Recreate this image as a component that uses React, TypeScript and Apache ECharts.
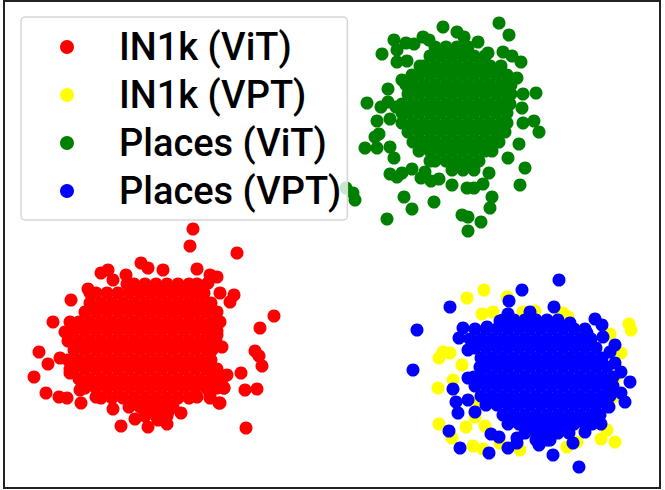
import React, { useEffect, useRef } from "react";
import * as echarts from "echarts";

const seriesNames = ["IN1k (ViT)", "IN1k (VPT)", "Places (ViT)", "Places (VPT)"];
const seriesColors = ["#ff0000", "#ffff00", "#008000", "#0000ff"];

const redEdge = [
  [193,229],[190,246],[237,253],[274,316],[260,328],[255,351],[259,356],[262,366],[241,373],[257,389],[245,390],[246,428],
  [220,403],[224,388],[227,375],[222,347],[217,335],[220,322],[230,302],[234,295],[220,293],[217,277],[208,283],[210,275],
  [197,269],[163,270],[141,263],[148,268],[126,275],[113,280],[108,270],[101,273],[88,289],[71,300],[53,322],[65,332],
  [39,352],[48,364],[60,358],[34,377],[46,393],[59,397],[67,398],[81,403],[96,397],[80,390],[70,373],[113,409],[121,426],
  [135,419],[148,427],[158,420],[167,424],[168,412],[181,413],[197,397],[219,403],[210,395],[217,373],
];
const redBody = [
  [127,284],[134,284],[145,284],[156,284],[167,284],[178,284],[189,284],[197,284],
  [90,293],[96,293],[107,293],[118,293],[129,293],[140,293],[151,293],[162,293],[173,293],[184,293],[195,293],[204,293],
  [90,303],[101,303],[112,303],[123,303],[134,303],[145,303],[156,303],[167,303],[178,303],[189,303],[200,303],[211,303],
  [85,312],[96,312],[107,312],[118,312],[129,312],[140,312],[151,312],[162,312],[173,312],[184,312],[195,312],[206,312],[217,312],
  [70,322],[79,322],[90,322],[101,322],[112,322],[123,322],[134,322],[145,322],[156,322],[167,322],[178,322],[189,322],[200,322],[211,322],[217,322],
  [74,331],[85,331],[96,331],[107,331],[118,331],[129,331],[140,331],[151,331],[162,331],[173,331],[184,331],[195,331],[206,331],[217,331],
  [68,341],[79,341],[90,341],[101,341],[112,341],[123,341],[134,341],[145,341],[156,341],[167,341],[178,341],[189,341],[200,341],[211,341],[216,341],
  [74,350],[85,350],[96,350],[107,350],[118,350],[129,350],[140,350],[151,350],[162,350],[173,350],[184,350],[195,350],[206,350],[212,350],
  [68,360],[79,360],[90,360],[101,360],[112,360],[123,360],[134,360],[145,360],[156,360],[167,360],[178,360],[189,360],[200,360],[211,360],
  [70,369],[74,369],[85,369],[96,369],[107,369],[118,369],[129,369],[140,369],[151,369],[162,369],[173,369],[184,369],[195,369],[206,369],[217,369],
  [79,379],[90,379],[101,379],[112,379],[123,379],[134,379],[145,379],[156,379],[167,379],[178,379],[189,379],[200,379],[211,379],[222,379],
  [85,388],[96,388],[107,388],[118,388],[129,388],[140,388],[151,388],[162,388],[173,388],[184,388],[195,388],[206,388],[217,388],[224,388],
  [101,398],[112,398],[123,398],[134,398],[145,398],[156,398],[167,398],[178,398],[189,398],[210,398],
  [129,407],[140,407],[151,407],[162,407],[173,407],
  [145,416],[156,416],[167,416],
];

const yellowEdge = [
  [484,290],[467,298],[507,297],[482,314],[493,312],[523,312],[535,311],[563,313],[568,317],[579,330],[610,334],[629,324],
  [631,330],[621,353],[443,352],[439,358],[450,353],[462,365],[453,380],[438,388],[478,402],[439,424],[452,438],[466,427],
  [473,446],[483,449],[485,426],[475,417],[500,443],[520,450],[567,447],[577,442],[607,430],[601,439],[615,442],[613,397],
  [615,378],[547,435],[570,425],[557,328],[597,380],
];
const yellowBody = [
  [510,340],[530,345],[550,350],[575,355],[500,365],[525,370],[548,375],[570,380],[505,395],[530,400],[555,405],[580,400],
];

const greenEdge = [
  [499,23],[509,35],[443,27],[457,32],[464,37],[394,40],[382,54],[406,43],[414,44],[423,37],[429,40],[397,50],[397,62],
  [407,61],[478,42],[488,53],[503,52],[512,56],[521,62],[517,78],[523,94],[536,93],[522,108],[523,123],[534,121],[539,132],
  [519,144],[508,158],[525,168],[520,185],[492,197],[490,208],[481,222],[468,231],[462,215],[468,217],[489,173],[483,184],
  [474,188],[467,188],[452,185],[439,179],[431,181],[421,178],[425,172],[412,169],[402,173],[397,177],[390,174],[404,197],
  [412,209],[434,202],[387,219],[355,200],[353,193],[346,188],[394,158],[365,148],[377,148],[375,137],[379,134],[390,147],
  [377,121],[390,119],[396,107],[381,107],[388,89],[367,103],[388,102],[402,80],
];
const greenBody = [
  [435,47],[446,47],[457,47],[468,47],
  [430,56],[441,56],[452,56],[463,56],[474,56],[485,56],
  [420,66],[424,66],[435,66],[446,66],[457,66],[468,66],[479,66],[490,66],[501,66],
  [412,75],[419,75],[430,75],[441,75],[452,75],[463,75],[474,75],[485,75],[496,75],[507,75],
  [406,85],[413,85],[424,85],[435,85],[446,85],[457,85],[468,85],[479,85],[490,85],[501,85],[511,85],
  [408,94],[419,94],[430,94],[441,94],[452,94],[463,94],[474,94],[485,94],[496,94],[507,94],[511,94],
  [402,104],[413,104],[424,104],[435,104],[446,104],[457,104],[468,104],[479,104],[490,104],[501,104],[510,104],
  [402,113],[408,113],[419,113],[430,113],[441,113],[452,113],[463,113],[474,113],[485,113],[496,113],[507,113],
  [402,123],[413,123],[424,123],[435,123],[446,123],[457,123],[468,123],[479,123],[490,123],[501,123],[507,123],
  [408,132],[419,132],[430,132],[441,132],[452,132],[463,132],[474,132],[485,132],[496,132],[505,132],
  [413,142],[424,142],[435,142],[446,142],[457,142],[468,142],[479,142],[490,142],[499,142],
  [419,151],[430,151],[441,151],[452,151],[463,151],[474,151],[485,151],[492,151],
  [430,161],[435,161],[446,161],[457,161],[468,161],[479,161],
  [452,170],[463,170],[474,170],
];

const blueEdge = [
  [559,280],[522,290],[509,301],[508,314],[530,312],[554,307],[450,307],[417,330],[413,370],[595,319],[602,325],[603,337],
  [587,333],[615,345],[610,352],[615,363],[621,372],[630,382],[621,393],[625,402],[609,407],[601,424],[585,432],[573,443],
  [579,467],[553,455],[539,445],[550,440],[517,438],[517,443],[508,448],[489,453],[460,448],[449,431],[491,434],[499,437],
  [458,413],[456,402],[468,400],[475,412],[453,389],[468,378],[459,338],[463,328],[468,350],[500,321],[487,327],[570,323],
];
const blueBody = [
  [503,320],[514,320],[525,320],[536,320],[547,320],[558,320],
  [475,329],[486,329],[497,329],[508,329],[519,329],[530,329],[541,329],[552,329],[563,329],[574,329],[585,329],
  [470,339],[481,339],[492,339],[503,339],[514,339],[525,339],[536,339],[547,339],[558,339],[569,339],[580,339],[591,339],
  [475,348],[486,348],[497,348],[508,348],[519,348],[530,348],[541,348],[552,348],[563,348],[574,348],[585,348],[596,348],
  [481,358],[492,358],[503,358],[514,358],[525,358],[536,358],[547,358],[558,358],[569,358],[580,358],[591,358],[602,358],
  [480,367],[486,367],[497,367],[508,367],[519,367],[530,367],[541,367],[552,367],[563,367],[574,367],[585,367],[596,367],[607,367],
  [474,377],[481,377],[492,377],[503,377],[514,377],[525,377],[536,377],[547,377],[558,377],[569,377],[580,377],[591,377],[602,377],[613,377],
  [475,386],[486,386],[497,386],[508,386],[519,386],[530,386],[541,386],[552,386],[563,386],[574,386],[585,386],[596,386],[607,386],[613,386],
  [481,396],[492,396],[503,396],[514,396],[525,396],[536,396],[547,396],[558,396],[569,396],[580,396],[591,396],[602,396],[610,396],
  [486,405],[497,405],[508,405],[519,405],[530,405],[541,405],[552,405],[563,405],[574,405],[585,405],[596,405],[607,405],
  [503,415],[514,415],[525,415],[536,415],[547,415],[558,415],[569,415],[580,415],[591,415],[600,415],
  [508,424],[519,424],[530,424],[541,424],[552,424],[563,424],[574,424],[585,424],[592,424],
  [525,433],[536,433],[547,433],[558,433],[569,433],
  [536,440],[547,440],
];

const seriesData = [
  [...redBody, ...redEdge],
  [...yellowBody, ...yellowEdge],
  [...greenBody, ...greenEdge],
  [...blueBody, ...blueEdge],
];

export default function App() {
  const ref = useRef<HTMLDivElement>(null);
  useEffect(() => {
    document.body.style.margin = "0";
    const chart = echarts.init(ref.current!, undefined, { renderer: "svg" });
    chart.setOption({
      animation: false,
      backgroundColor: "#ffffff",
      grid: { show: true, left: 4, top: 1, width: 656, height: 487, borderColor: "#222222", borderWidth: 2, backgroundColor: "#ffffff" },
      xAxis: { type: "value", min: 4, max: 660, show: false },
      yAxis: { type: "value", min: 1, max: 488, inverse: true, show: false },
      tooltip: { show: false },
      legend: {
        left: 21,
        top: 17,
        orient: "vertical",
        data: seriesNames,
        icon: "circle",
        itemWidth: 94,
        itemHeight: 14,
        itemGap: 0,
        selectedMode: false,
        backgroundColor: "rgba(255,255,255,0.8)",
        borderColor: "#d6d6d6",
        borderWidth: 1.5,
        borderRadius: 4,
        padding: [6, 6, 5, 39],
        textStyle: {
          fontFamily: "Roboto",
          fontSize: 38,
          fontWeight: 500,
          color: "#000000",
          lineHeight: 48,
        },
      },
      series: seriesNames.map((name, i) => ({
        name,
        type: "scatter",
        data: seriesData[i],
        symbol: "circle",
        symbolSize: 13,
        silent: true,
        clip: false,
        itemStyle: { color: seriesColors[i], opacity: 1 },
      })),
    });
    return () => chart.dispose();
  }, []);
  return <div ref={ref} style={{ width: 665, height: 490 }} />;
}
